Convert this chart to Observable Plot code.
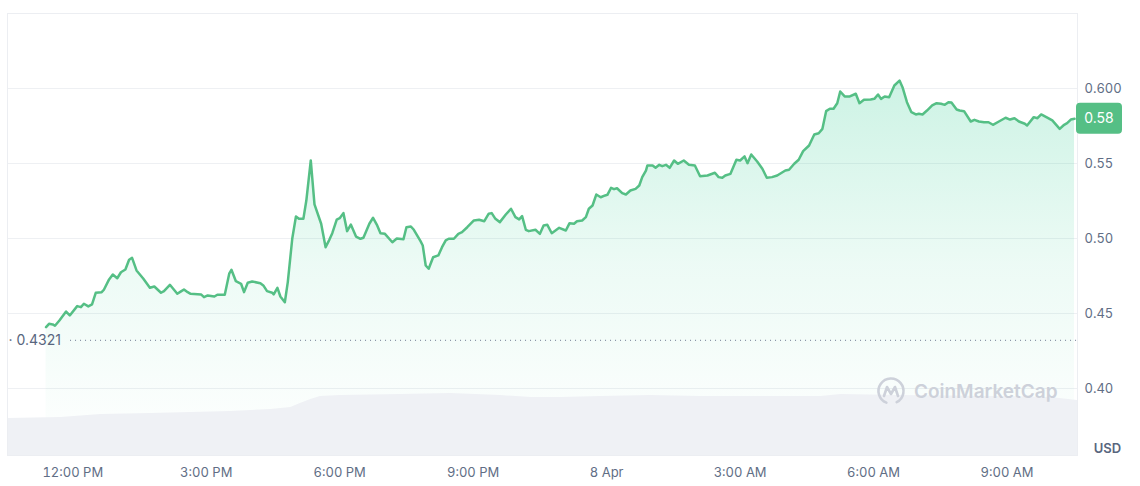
<!DOCTYPE html>
<html><head><meta charset="utf-8">
<script src="https://cdn.jsdelivr.net/npm/d3@7"></script>
<script src="https://cdn.jsdelivr.net/npm/@observablehq/plot@0.6"></script>
<style>
body{margin:0;background:#fff;font-family:Inter,"Noto Sans",sans-serif}
#chart svg{display:block}
</style>
</head><body><div id="chart"></div>
<script>
// Price series: minutes after 7 Apr 12:00 PM, and price in USD
const minutesFromNoon = [-36,-32,-27,-24,-18,-9,-4,6,11,15,21,26,31,39,42,49,54,60,65,71,76,80,86,95,104,110,119,123,131,141,146,150,155,159,173,177,182,191,195,205,211,214,220,227,231,236,242,253,257,262,269,271,276,280,286,290,296,301,305,311,315,321,326,335,341,346,350,356,360,365,370,375,382,388,392,400,405,410,415,421,431,437,446,450,456,460,469,472,476,480,486,493,498,503,507,514,520,525,532,541,548,555,561,565,570,576,584,591,597,602,606,611,615,624,630,635,640,646,656,665,670,676,680,687,692,696,701,706,712,718,721,726,730,734,741,746,752,759,764,768,773,775,782,786,791,795,800,805,811,816,824,831,839,846,856,866,871,876,880,887,895,900,906,910,915,923,930,936,943,950,961,966,973,979,985,993,1000,1006,1011,1016,1021,1026,1031,1035,1041,1048,1056,1061,1067,1076,1081,1086,1090,1095,1101,1108,1115,1119,1125,1131,1137,1141,1146,1152,1159,1165,1171,1176,1181,1185,1192,1196,1202,1211,1216,1222,1229,1235,1241,1249,1258,1264,1270,1276,1284,1287,1296,1301,1306,1313,1321,1331,1337,1341,1346,1351];
const price = [0.4409,0.4431,0.4427,0.4418,0.4453,0.4513,0.4487,0.4549,0.4542,0.4565,0.4547,0.4560,0.4638,0.4642,0.4658,0.4727,0.4760,0.4735,0.4775,0.4793,0.4858,0.4871,0.4787,0.4733,0.4671,0.4680,0.4638,0.4649,0.4691,0.4631,0.4647,0.4660,0.4642,0.4631,0.4627,0.4609,0.4620,0.4613,0.4625,0.4625,0.4765,0.4791,0.4715,0.4698,0.4642,0.4705,0.4713,0.4702,0.4687,0.4649,0.4638,0.4627,0.4671,0.4613,0.4575,0.4709,0.4998,0.5147,0.5131,0.5131,0.5253,0.5520,0.5227,0.5098,0.4942,0.4991,0.5035,0.5125,0.5135,0.5169,0.5049,0.5093,0.5013,0.4998,0.5005,0.5098,0.5138,0.5093,0.5035,0.5031,0.4975,0.5000,0.4995,0.5075,0.5080,0.5058,0.4982,0.4953,0.4820,0.4798,0.4875,0.4887,0.4942,0.4987,0.4998,0.4998,0.5031,0.5042,0.5075,0.5120,0.5125,0.5115,0.5165,0.5169,0.5131,0.5109,0.5160,0.5198,0.5142,0.5127,0.5149,0.5058,0.5049,0.5058,0.5031,0.5087,0.5091,0.5035,0.5071,0.5053,0.5102,0.5098,0.5115,0.5120,0.5142,0.5198,0.5220,0.5293,0.5275,0.5287,0.5291,0.5338,0.5329,0.5335,0.5302,0.5293,0.5320,0.5331,0.5353,0.5409,0.5453,0.5487,0.5487,0.5471,0.5491,0.5482,0.5491,0.5471,0.5520,0.5498,0.5520,0.5491,0.5487,0.5415,0.5420,0.5438,0.5409,0.5405,0.5420,0.5431,0.5525,0.5520,0.5547,0.5502,0.5560,0.5513,0.5465,0.5405,0.5409,0.5420,0.5453,0.5458,0.5498,0.5525,0.5582,0.5620,0.5693,0.5702,0.5731,0.5849,0.5865,0.5865,0.5902,0.5980,0.5947,0.5947,0.5965,0.5902,0.5925,0.5927,0.5931,0.5960,0.5931,0.5947,0.5942,0.6020,0.6053,0.6009,0.5909,0.5842,0.5827,0.5831,0.5827,0.5853,0.5887,0.5902,0.5898,0.5891,0.5909,0.5907,0.5860,0.5853,0.5849,0.5780,0.5791,0.5780,0.5775,0.5775,0.5758,0.5780,0.5805,0.5793,0.5802,0.5780,0.5765,0.5753,0.5809,0.5802,0.5827,0.5809,0.5787,0.5731,0.5758,0.5769,0.5793,0.5798];

// Volume band (relative units), minutes after 7 Apr 12:00 PM
const volumeMinutes = [-88,-16,38,105,213,267,294,307,321,334,361,442,510,577,618,658,712,779,847,928,1009,1036,1116,1251,1319,1355];
const volume = [37,38,41,42,44,46,48,52,56,59,60,61,62,60,58,58,59,60,59,59,59,61,60,59,58,55];

// Axes
const xTickMinutes = [0,180,360,540,720,900,1080,1260];
const xTickLabels = ["12:00 PM","3:00 PM","6:00 PM","9:00 PM","8 Apr","3:00 AM","6:00 AM","9:00 AM"];
const yTicks = [0.40,0.45,0.50,0.55,0.60];
const yTickLabels = ["0.40","0.45","0.50","0.55","0.600"];
const xDomainMinutes = [-88, 1355];
const yDomain = [0.3553, 0.65];
const openPrice = 0.4321;
const currency = "USD";
const watermark = "CoinMarketCap";

const base = Date.UTC(2024, 3, 7, 12, 0);
const toDate = m => new Date(base + m * 60000);
const n = Math.min(minutesFromNoon.length, price.length);
const priceData = d3.range(n).map(i => ({date: toDate(minutesFromNoon[i]), price: price[i]}));
const volData = volumeMinutes.map((m, i) => ({date: toDate(m), vol: volume[i]}));
const volToPrice = v => yDomain[0] + v / 1500; // secondary scale for volume band
const xTickDates = xTickMinutes.map(toDate);
const xLabelMap = new Map(xTickDates.map((d, i) => [+d, xTickLabels[i]]));

const green = "#55bf85";
const lastPrice = priceData[priceData.length - 1].price;

const chart = Plot.plot({
  width: 1140, height: 486,
  marginTop: 13, marginBottom: 31, marginLeft: 7, marginRight: 63,
  style: {fontFamily: "Inter, 'Noto Sans', sans-serif", fontSize: "13px", color: "#616e85", background: "#fff", overflow: "visible"},
  x: {type: "utc", domain: xDomainMinutes.map(toDate), ticks: xTickDates, tickFormat: d => xLabelMap.get(+d), tickSize: 0, tickPadding: 12, label: null},
  y: {domain: yDomain, axis: "right", ticks: yTicks, tickFormat: d => yTickLabels[yTicks.indexOf(d)], tickSize: 0, tickPadding: 7, label: null},
  marks: [
    Plot.gridY(yTicks, {stroke: "#eef0f3", strokeOpacity: 1}),
    Plot.areaY(priceData, {x: "date", y1: yDomain[0], y2: "price", fill: "url(#areaGrad)"}),
    Plot.areaY(volData, {x: "date", y1: yDomain[0], y2: d => volToPrice(d.vol), fill: "#eff1f5"}),
    Plot.frame({stroke: "#eceef2"}),
    Plot.ruleY([openPrice], {x1: toDate(-3), x2: toDate(xDomainMinutes[1]), stroke: "#8a94a6", strokeDasharray: "1,4", strokeWidth: 1.2}),
    Plot.text([openPrice], {y: d => d, frameAnchor: "left", dx: 1, text: d => "· " + d.toFixed(4), textAnchor: "start", fill: "#58667e", fontSize: 14}),
    Plot.line(priceData, {x: "date", y: "price", stroke: green, strokeWidth: 2.5, strokeLinejoin: "round"}),
    Plot.text([watermark], {frameAnchor: "bottom-right", dx: -20, dy: -64, lineAnchor: "middle", textAnchor: "end", fill: "#cdd1da", fontSize: 19, fontWeight: 600}),
    Plot.text([currency], {frameAnchor: "bottom-right", dx: 30, dy: -3, lineAnchor: "bottom", textAnchor: "middle", fill: "#58667e", fontSize: 13, fontWeight: 600})
  ]
});

const svg = d3.select(chart);
const defs = svg.insert("defs", ":first-child");
const yS = chart.scale("y");
const grad = defs.append("linearGradient").attr("id", "areaGrad")
  .attr("gradientUnits", "userSpaceOnUse").attr("x1", 0).attr("x2", 0)
  .attr("y1", yS.apply(0.61)).attr("y2", yS.apply(yDomain[0]));
grad.append("stop").attr("offset", 0).attr("stop-color", "#16c784").attr("stop-opacity", 0.22);
grad.append("stop").attr("offset", 0.5).attr("stop-color", "#16c784").attr("stop-opacity", 0.08);
grad.append("stop").attr("offset", 1).attr("stop-color", "#16c784").attr("stop-opacity", 0.0);

// Watermark logo (circle + M)
const frameRight = 1140 - 63, frameBottom = 486 - 31;
const cx = frameRight - 186, cy = frameBottom - 64, r = 12.5;
const logo = svg.append("g").attr("fill", "none").attr("stroke", "#cdd1da").attr("stroke-width", 2.6).attr("stroke-linecap", "round").attr("stroke-linejoin", "round");
const arcPath = d3.path();
arcPath.arc(cx, cy, r, Math.PI * 0.62, Math.PI * 2.35);
logo.append("path").attr("d", arcPath.toString());
logo.append("path").attr("d", `M${cx-7},${cy+5} L${cx-4},${cy-4} L${cx},${cy+3} L${cx+4},${cy-4} L${cx+7},${cy+5}`);

// Current price badge in the right margin
const by = yS.apply(lastPrice);
const badge = svg.append("g");
badge.append("rect").attr("x", frameRight - 1).attr("y", by - 15.5).attr("width", 46).attr("height", 31).attr("rx", 4).attr("fill", green);
badge.append("text").attr("x", frameRight + 22).attr("y", by).attr("dy", "0.35em").attr("text-anchor", "middle")
  .attr("fill", "#fff").attr("font-size", 14).attr("font-family", "Inter, sans-serif").text(d3.format(".2f")(lastPrice));

document.getElementById("chart").append(chart);
</script>
</body></html>
